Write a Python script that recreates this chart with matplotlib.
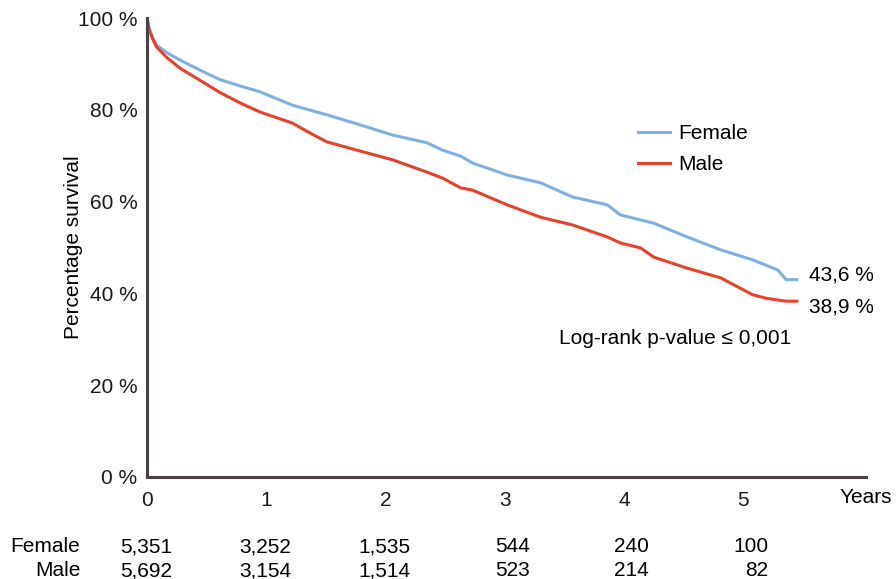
import matplotlib
matplotlib.use('Agg')
import matplotlib.pyplot as plt
import numpy as np

plt.rcParams['font.family'] = ['Liberation Sans', 'DejaVu Sans']

# survival curves (years, percent)
female_t = [0, 0.02, 0.05, 0.08, 0.17, 0.28, 0.44, 0.61, 0.78, 0.95, 1.22, 1.51,
            1.79, 2.06, 2.35, 2.48, 2.63, 2.73, 3.02, 3.30, 3.57, 3.86, 3.97,
            4.14, 4.25, 4.53, 4.81, 5.08, 5.29, 5.36, 5.45]
female_s = [100, 97.5, 95.6, 94.1, 92.4, 90.8, 88.7, 86.6, 85.2, 83.9, 81.0, 78.9,
            76.7, 74.5, 72.8, 71.2, 69.9, 68.4, 65.8, 64.1, 61.0, 59.3, 57.1,
            56.0, 55.3, 52.3, 49.5, 47.3, 45.1, 43.0, 43.0]

male_t = [0, 0.02, 0.05, 0.08, 0.17, 0.28, 0.44, 0.61, 0.78, 0.95, 1.22, 1.37,
          1.51, 1.79, 2.06, 2.35, 2.48, 2.63, 2.73, 3.02, 3.30, 3.57, 3.86,
          3.97, 4.14, 4.25, 4.53, 4.81, 5.08, 5.20, 5.36, 5.45]
male_s = [100, 97.3, 95.3, 93.7, 91.3, 89.0, 86.5, 83.8, 81.5, 79.5, 77.1, 74.9,
          73.0, 71.0, 69.1, 66.4, 65.1, 63.0, 62.5, 59.3, 56.6, 54.9, 52.3,
          51.0, 49.9, 47.9, 45.5, 43.4, 39.7, 38.9, 38.3, 38.3]

years = [0, 1, 2, 3, 4, 5]
female_risk = ['5,351', '3,252', '1,535', '544', '240', '100']
male_risk = ['5,692', '3,154', '1,514', '523', '214', '82']
yticks = [0, 20, 40, 60, 80, 100]

blue = '#7eb0e0'
red = '#e8412e'
dark = '#4a4343'
fs = 15

fig = plt.figure(figsize=(8.96, 5.79), dpi=100)
ax = fig.add_axes([147/896, 1 - 477/579, (866 - 147)/896, (477 - 18)/579])

ax.plot(female_t, female_s, color=blue, lw=2.2, label='Female')
ax.plot(male_t, male_s, color=red, lw=2.2, label='Male')

ax.set_xlim(0, 6.03)
ax.set_ylim(0, 100)
for s in ['top', 'right']:
    ax.spines[s].set_visible(False)
for s in ['left', 'bottom']:
    ax.spines[s].set_color(dark)
    ax.spines[s].set_linewidth(2.2)

ax.set_xticks(years)
ax.set_xticklabels([str(y) for y in years])
ax.set_yticks(yticks)
ax.set_yticklabels([f'{v} %' for v in yticks])
ax.tick_params(axis='both', length=0, labelsize=fs, colors='#1a1a1a')
ax.tick_params(axis='x', pad=10)
ax.tick_params(axis='y', pad=7)
ax.set_ylabel('Percentage survival', fontsize=fs, labelpad=-4)
ax.text(6.03, -4.4, 'Years', ha='center', va='center', fontsize=fs)

leg = fig.legend(loc='upper left', bbox_to_anchor=(638 / 896, 1 - 124 / 579),
                 frameon=False, fontsize=fs, handlelength=1.55, handletextpad=0.4,
                 labelspacing=0.58, borderpad=0, borderaxespad=0)

ax.text(5.55, 44.0, '43,6 %', ha='left', va='center', fontsize=fs)
ax.text(5.55, 37.1, '38,9 %', ha='left', va='center', fontsize=fs)
ax.text(5.4, 30.2, 'Log-rank p-value \u2264 0,001', ha='right', va='center', fontsize=fs)

# number at risk table
for yr, f, m in zip(years, female_risk, male_risk):
    ax.text(yr + 0.21, -15.2, f, ha='right', va='center', fontsize=fs, clip_on=False)
    ax.text(yr + 0.21, -20.4, m, ha='right', va='center', fontsize=fs, clip_on=False)
ax.text(-0.56, -15.2, 'Female', ha='right', va='center', fontsize=fs)
ax.text(-0.56, -20.4, 'Male', ha='right', va='center', fontsize=fs)

fig.savefig('out.png', dpi=100)
